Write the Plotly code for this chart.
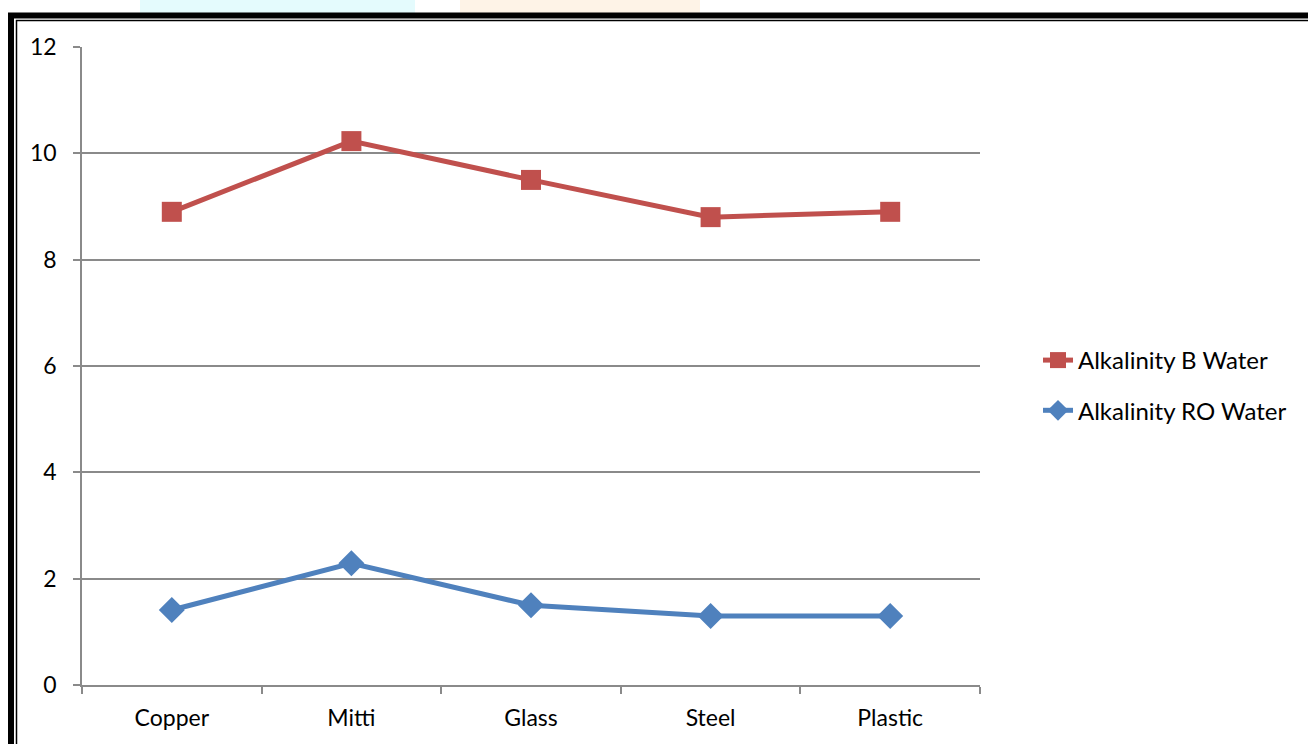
import plotly.graph_objects as go

categories = ["Copper", "Mitti", "Glass", "Steel", "Plastic"]
b_water = [8.9, 10.23, 9.5, 8.8, 8.9]
ro_water = [1.41, 2.29, 1.5, 1.3, 1.3]
y_ticks = [0, 2, 4, 6, 8, 10, 12]

W, H = 1308, 744
L, R, T, B = 82, 980, 47, 685

def px(x):
    return (x - L) / (R - L)

def py(y):
    return (B - y) / (B - T)

FONT = "Lato, Calibri, 'Open Sans', sans-serif"
GRID = "#8a8a8a"

fig = go.Figure()
fig.add_trace(go.Scatter(
    x=categories, y=b_water, name="Alkalinity B Water", mode="lines+markers",
    line=dict(color="#c0504d", width=5),
    marker=dict(symbol="square", size=20, color="#c0504d"),
    legendgroup="b",
))
fig.add_trace(go.Scatter(
    x=categories, y=ro_water, name="Alkalinity RO Water", mode="lines+markers",
    line=dict(color="#4f81bd", width=5),
    marker=dict(symbol="diamond", size=20, color="#4f81bd"),
    legendgroup="ro",
))

shapes = [
    # faint background watermark at top
    dict(type="rect", xref="paper", yref="paper", x0=px(140), x1=px(415), y0=py(0), y1=py(13),
         fillcolor="#e4fbfd", line=dict(width=0), layer="below"),
    dict(type="rect", xref="paper", yref="paper", x0=px(460), x1=px(700), y0=py(0), y1=py(13),
         fillcolor="#fef3e7", line=dict(width=0), layer="below"),
    # frame: thick outer and thin inner line
    dict(type="rect", xref="paper", yref="paper", x0=px(11), x1=px(1330), y0=py(15.5), y1=py(770),
         line=dict(color="black", width=6), fillcolor="rgba(0,0,0,0)"),
    dict(type="rect", xref="paper", yref="paper", x0=px(16.5), x1=px(1330), y0=py(20.5), y1=py(770),
         line=dict(color="black", width=1.5), fillcolor="rgba(0,0,0,0)"),
]

fig.update_layout(
    width=W, height=H,
    margin=dict(l=L, r=W - R, t=T, b=H - B, pad=0),
    paper_bgcolor="white", plot_bgcolor="white",
    font=dict(family=FONT, size=23, color="black"),
    shapes=shapes,
    showlegend=True,
    legend=dict(
        x=px(1038), xanchor="left", y=py(338), yanchor="top",
        font=dict(family=FONT, size=24, color="black"),
        traceorder="grouped", tracegroupgap=16,
        bgcolor="rgba(0,0,0,0)",
    ),
    xaxis=dict(
        type="category", range=[-0.5, 4.5],
        showgrid=False, showline=True, linecolor=GRID, linewidth=1.5,
        ticks="outside", tickson="boundaries", ticklen=7, tickcolor=GRID, tickwidth=1.5,
        ticklabelstandoff=12,
        tickfont=dict(family=FONT, size=23, color="black"),
        zeroline=False,
    ),
    yaxis=dict(
        range=[0, 12], tickvals=y_ticks, ticktext=[str(v) for v in y_ticks],
        showgrid=True, gridcolor=GRID, gridwidth=1.5,
        showline=True, linecolor=GRID, linewidth=1.5,
        ticks="outside", ticklen=7, tickcolor=GRID, tickwidth=1.5,
        ticklabelstandoff=12,
        tickfont=dict(family=FONT, size=23, color="black"),
        zeroline=False,
    ),
)

fig.write_html("out.html")
